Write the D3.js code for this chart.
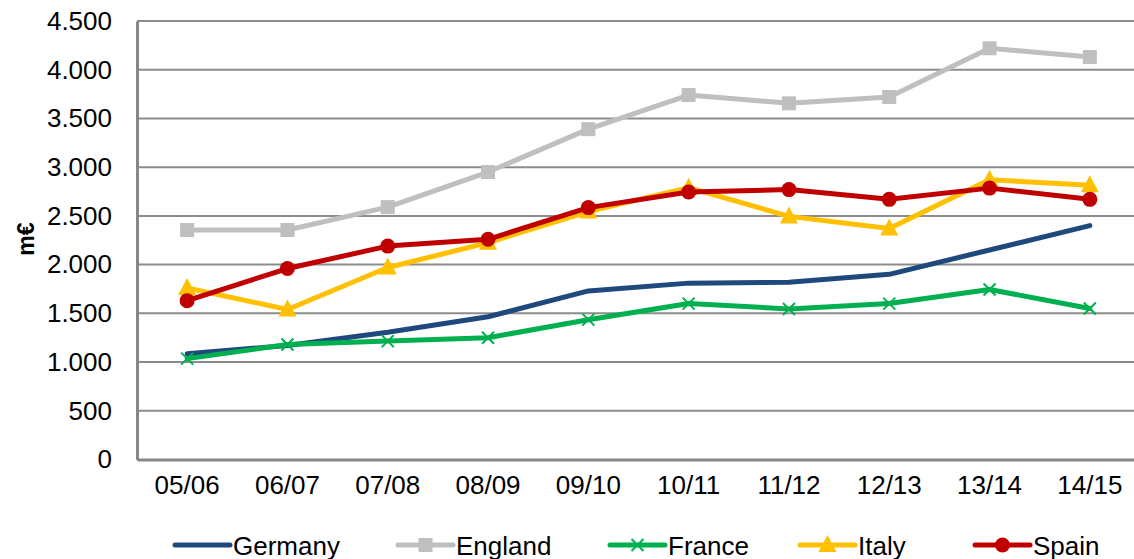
<!DOCTYPE html>
<html>
<head>
<meta charset="utf-8">
<script src="https://cdn.jsdelivr.net/npm/d3@7"></script>
<style>
  body { margin: 0; background: #fff; }
  svg { display: block; font-family: "Liberation Sans", Arial, sans-serif; }
</style>
</head>
<body>
<div id="chart"></div>
<script>
// Season labels (x axis)
var seasons = ["05/06", "06/07", "07/08", "08/09", "09/10", "10/11", "11/12", "12/13", "13/14", "14/15"];

// Revenue per league, in million euro
var germany = [1085, 1170, 1305, 1465, 1730, 1810, 1820, 1900, 2150, 2400];
var england = [2355, 2355, 2590, 2950, 3390, 3740, 3655, 3720, 4220, 4130];
var france  = [1035, 1180, 1215, 1250, 1435, 1600, 1545, 1600, 1745, 1550];
var italy   = [1760, 1540, 1970, 2225, 2545, 2790, 2495, 2370, 2870, 2815];
var spain   = [1630, 1960, 2190, 2260, 2585, 2745, 2770, 2670, 2785, 2670];

var yTicks = [0, 500, 1000, 1500, 2000, 2500, 3000, 3500, 4000, 4500];

var series = [
    {name: "Germany", values: germany, color: "#1F497D", marker: "none"},
    {name: "England", values: england, color: "#BFBFBF", marker: "square"},
    {name: "France",  values: france,  color: "#00B050", marker: "cross"},
    {name: "Italy",   values: italy,   color: "#FFC000", marker: "triangle"},
    {name: "Spain",   values: spain,   color: "#C00000", marker: "circle"}
];

var W = 1134, H = 559;
var plot = {left: 137, top: 21, right: 1140, bottom: 459.5};

var svg = d3.select("#chart").append("svg")
    .attr("width", W)
    .attr("height", H);

var x = d3.scaleBand()
    .domain(seasons)
    .range([plot.left, plot.right])
    .padding(0);

var y = d3.scaleLinear()
    .domain([0, 4500])
    .range([plot.bottom, plot.top]);

var fmt = d3.formatLocale({decimal: ",", thousands: ".", grouping: [3], currency: ["", "€"]}).format(",d");

// gridlines
svg.append("g")
    .selectAll("line")
    .data(yTicks.filter(function(d) { return d > 0; }))
    .join("line")
    .attr("x1", plot.left)
    .attr("x2", plot.right)
    .attr("y1", function(d) { return y(d); })
    .attr("y2", function(d) { return y(d); })
    .attr("stroke", "#8C8C8C")
    .attr("stroke-width", 2);

// y axis
var yAxis = svg.append("g")
    .attr("transform", "translate(" + plot.left + ",0)")
    .call(d3.axisLeft(y).tickValues(yTicks).tickSize(0).tickPadding(25).tickFormat(fmt));
yAxis.select(".domain").attr("stroke", "#878787").attr("stroke-width", 3);
yAxis.selectAll("text")
    .attr("font-size", 26)
    .attr("font-family", "Liberation Sans, Arial, sans-serif")
    .attr("fill", "#000");

// x axis
var xAxis = svg.append("g")
    .attr("transform", "translate(0," + plot.bottom + ")")
    .call(d3.axisBottom(x).tickSize(0).tickPadding(16));
xAxis.select(".domain").attr("stroke", "#878787").attr("stroke-width", 3);
xAxis.selectAll("text")
    .attr("font-size", 26)
    .attr("font-family", "Liberation Sans, Arial, sans-serif")
    .attr("fill", "#000");

// y label
svg.append("text")
    .attr("transform", "translate(34,239) rotate(-90)")
    .attr("text-anchor", "middle")
    .attr("font-size", 23)
    .attr("font-weight", "bold")
    .text("m€");

var line = d3.line()
    .x(function(d, i) { return x(seasons[i]) + x.bandwidth() / 2; })
    .y(function(d) { return y(d); });

function drawMarker(g, type, color) {
    if (type === "square") {
        g.append("rect").attr("x", -7).attr("y", -7).attr("width", 14).attr("height", 14).attr("fill", color);
    } else if (type === "circle") {
        g.append("circle").attr("r", 7.5).attr("fill", color);
    } else if (type === "triangle") {
        g.append("path").attr("d", "M0,-10L9,7L-9,7Z").attr("fill", color);
    } else if (type === "cross") {
        g.append("path").attr("d", "M-6,-6L6,6M-6,6L6,-6").attr("stroke", color).attr("stroke-width", 2).attr("fill", "none");
    }
}

series.forEach(function(s) {
    var g = svg.append("g");
    g.append("path")
        .datum(s.values)
        .attr("d", line)
        .attr("fill", "none")
        .attr("stroke", s.color)
        .attr("stroke-width", 5)
        .attr("stroke-linejoin", "round")
        .attr("stroke-linecap", "round");
    if (s.marker !== "none") {
        s.values.forEach(function(v, i) {
            var m = g.append("g")
                .attr("transform", "translate(" + (x(seasons[i]) + x.bandwidth() / 2) + "," + y(v) + ")");
            drawMarker(m, s.marker, s.color);
        });
    }
});

// legend
var legendX = [175, 398, 610, 800, 975];
var legendY = 545;
series.forEach(function(s, i) {
    var g = svg.append("g").attr("transform", "translate(" + legendX[i] + "," + legendY + ")");
    g.append("line")
        .attr("x1", 0).attr("x2", 55)
        .attr("stroke", s.color)
        .attr("stroke-width", 5)
        .attr("stroke-linecap", "round");
    if (s.marker !== "none") {
        var m = g.append("g").attr("transform", "translate(27.5,0)");
        drawMarker(m, s.marker, s.color);
    }
    g.append("text")
        .attr("x", 58)
        .attr("y", 10)
        .attr("font-size", 26)
        .text(s.name);
});
</script>
</body>
</html>
